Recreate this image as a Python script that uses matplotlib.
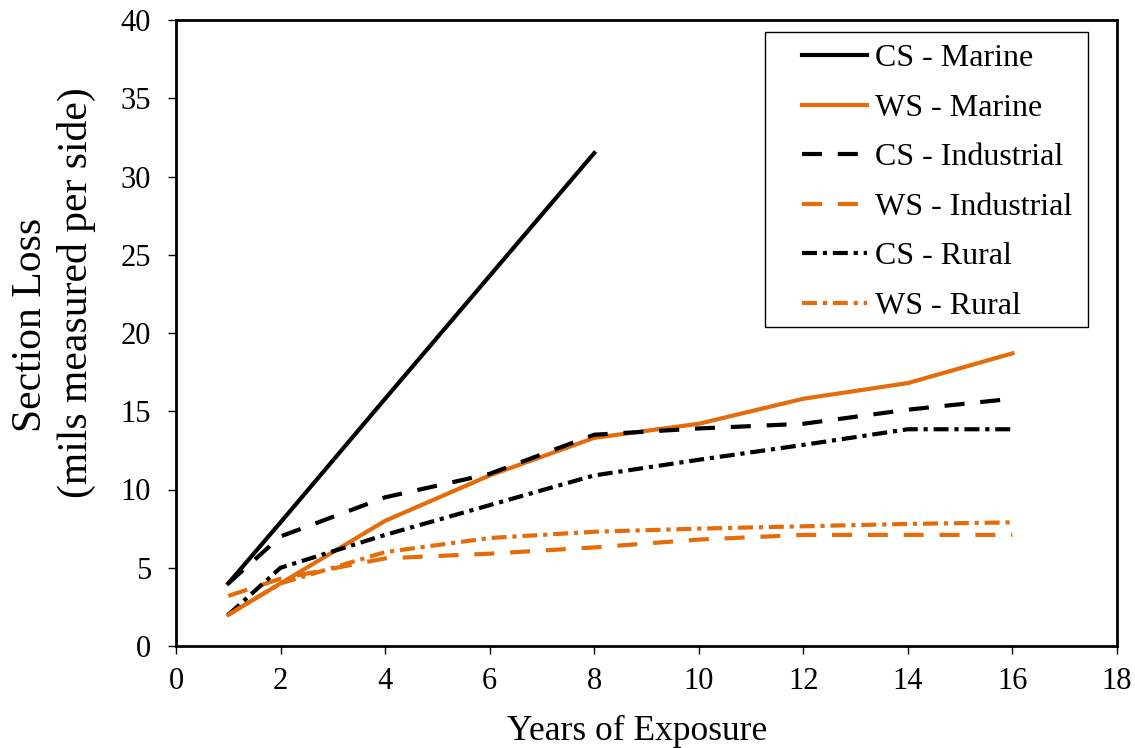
import matplotlib
matplotlib.use("Agg")
import matplotlib.pyplot as plt
from matplotlib.patches import Rectangle

plt.rcParams["font.family"] = ["Liberation Serif", "DejaVu Serif"]

ORANGE = "#E46C0A"

years_cs_marine = [1, 2, 4, 8]
cs_marine = [4.0, 7.9, 15.8, 31.5]

years = [1, 2, 4, 6, 8, 10, 12, 14, 16]
ws_marine = [2.0, 4.0, 8.0, 10.9, 13.3, 14.2, 15.8, 16.8, 18.7]
cs_industrial = [4.0, 7.0, 9.5, 11.0, 13.5, 13.9, 14.2, 15.1, 15.8]
ws_industrial = [3.2, 4.3, 5.6, 5.9, 6.3, 6.8, 7.1, 7.1, 7.1]
cs_rural = [2.0, 5.0, 7.1, 9.0, 10.9, 11.9, 12.85, 13.85, 13.85]
ws_rural = [2.0, 4.0, 6.0, 6.9, 7.3, 7.5, 7.65, 7.8, 7.9]

DASH = (0, (4.8, 3.8))
DASHDOT = (0, (3.6, 1.4, 1.0, 1.4))

W, H = 1135, 748


def px(x, y):
    # pixel position (from top-left) -> figure fraction
    return x / W, 1 - y / H


def main() -> None:
    fig = plt.figure(figsize=(W / 100, H / 100), dpi=100)
    ax = fig.add_axes([176 / W, 1 - 646 / H, (1117 - 176) / W, (646 - 20) / H])

    lw = 3.0
    ax.plot(years_cs_marine, cs_marine, color="black", lw=lw, label="CS - Marine")
    ax.plot(years, ws_marine, color=ORANGE, lw=lw, label="WS - Marine")
    ax.plot(years, cs_industrial, color="black", lw=lw, ls=DASH, label="CS - Industrial")
    ax.plot(years, ws_industrial, color=ORANGE, lw=lw, ls=DASH, label="WS - Industrial")
    ax.plot(years, cs_rural, color="black", lw=lw, ls=DASHDOT, label="CS - Rural")
    ax.plot(years, ws_rural, color=ORANGE, lw=lw, ls=DASHDOT, label="WS - Rural")

    ax.set_xlim(0, 18)
    ax.set_ylim(0, 40)
    ax.set_xticks(range(0, 19, 2))
    ax.set_yticks(range(0, 41, 5))
    for side in ax.spines.values():
        side.set_linewidth(2.0)
    ax.tick_params(direction="out", length=6, width=1.0, labelsize=22)
    ax.tick_params(axis="x", pad=9)
    ax.tick_params(axis="y", pad=12)

    # axis titles placed as figure text to follow the original layout
    fig.text(*px(637, 740), "Years of Exposure", fontsize=25.5,
             ha="center", va="baseline")
    fig.text(*px(31, 325), "Section Loss", fontsize=30, rotation=90,
             ha="center", va="center")
    fig.text(*px(76, 293), "(mils measured per side)", fontsize=30,
             rotation=90, ha="center", va="center")

    # legend without its own frame, box drawn separately (wider left margin)
    ax.legend(loc="upper left", bbox_to_anchor=px(794, 36),
              bbox_transform=fig.transFigure, fontsize=23, frameon=False,
              handlelength=2.05, handletextpad=0.25, labelspacing=0.63,
              borderpad=0.25, borderaxespad=0)
    fig.patches.append(Rectangle(px(765, 327), (1088 - 765) / W,
                                 (327 - 32) / H, transform=fig.transFigure,
                                 fill=False, edgecolor="black", lw=1.0, zorder=5))

    fig.savefig("out.png", dpi=100)


if __name__ == "__main__":
    main()
